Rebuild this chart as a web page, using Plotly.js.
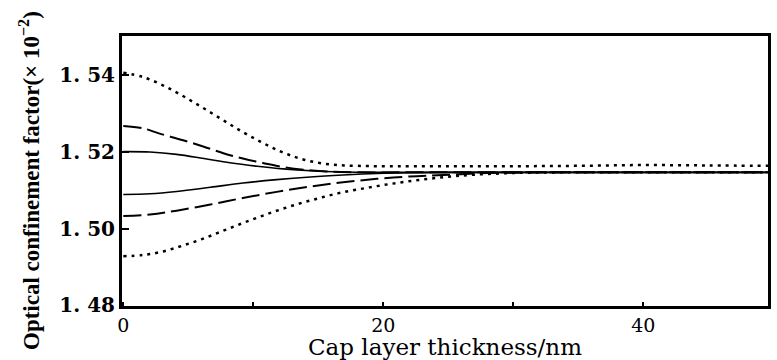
<!DOCTYPE html>
<html>
<head>
<meta charset="utf-8">
<script src="https://cdn.plot.ly/plotly-3.0.1.min.js"></script>
<style>
  html, body { margin: 0; padding: 0; background: #ffffff; }
  #chart { width: 777px; height: 360px; }
</style>
</head>
<body>
<div id="chart"></div>
<script>
// Cap layer thickness (nm) and optical confinement factor (x10^-2)
const xTopDot   = [0, 1.5, 3, 4.5, 6, 7.5, 9, 10.5, 12, 13.5, 15, 16.5, 18, 20, 25, 30, 35, 40, 45, 49.6];
const yTopDot   = [1.5407, 1.5396, 1.5375, 1.5348, 1.5318, 1.5287, 1.5256, 1.5228, 1.5203, 1.5184, 1.5172, 1.5166, 1.5164, 1.5163, 1.5163, 1.5163, 1.5164, 1.5166, 1.5165, 1.5164];

const xTopDash  = [0, 1.5, 2.8, 4.6, 6.2, 7.7, 9.2, 10.8, 12.3, 13.9, 15.7, 18, 22, 30, 40, 49.6];
const yTopDash  = [1.5268, 1.5262, 1.5248, 1.5231, 1.5214, 1.5197, 1.5183, 1.5171, 1.5161, 1.5154, 1.5149, 1.5147, 1.5147, 1.5147, 1.5147, 1.5147];

const xTopSolid = [0, 2.05, 4.1, 6.2, 8.2, 10.3, 12.3, 14.4, 16.9, 20, 25, 30, 40, 49.6];
const yTopSolid = [1.5201, 1.5200, 1.5194, 1.5183, 1.5172, 1.5163, 1.5156, 1.5151, 1.5148, 1.5147, 1.5147, 1.5147, 1.5147, 1.5147];

const xLowSolid = [0, 2.05, 4.1, 6.7, 9.2, 11.8, 14.4, 16.9, 19.5, 22, 25, 30, 40, 49.6];
const yLowSolid = [1.5089, 1.5091, 1.5097, 1.5108, 1.5119, 1.5128, 1.5135, 1.5140, 1.5144, 1.5146, 1.5147, 1.5147, 1.5147, 1.5147];

const xLowDash  = [0, 2.05, 4.1, 6.7, 9.2, 11.8, 14.4, 16.9, 19.5, 22, 24.6, 28, 32, 40, 49.6];
const yLowDash  = [1.5033, 1.5037, 1.5047, 1.5063, 1.5080, 1.5096, 1.5110, 1.5121, 1.5130, 1.5136, 1.5140, 1.5145, 1.5147, 1.5147, 1.5147];

const xLowDot   = [0, 1.5, 3, 4.5, 6, 7.5, 9, 10.5, 12, 13.5, 15, 16.5, 18, 19.5, 21, 22.5, 24, 25.5, 27, 29, 31, 34, 40, 49.6];
const yLowDot   = [1.4928, 1.4931, 1.4940, 1.4955, 1.4972, 1.4992, 1.5012, 1.5031, 1.5049, 1.5065, 1.5079, 1.5092, 1.5102, 1.5111, 1.5119, 1.5126, 1.5132, 1.5137, 1.5141, 1.5144, 1.5146, 1.5147, 1.5147, 1.5147];

const xTickVals = [0, 20, 40];
const xTickText = ["0", "20", "40"];
const xMinorVals = [10, 30];
const yTickVals = [1.48, 1.50, 1.52, 1.54];
const yTickText = ["1.\u00a048", "1.\u00a050", "1.\u00a052", "1.\u00a054"];
const yTitleText = "Optical confinement factor(× 10<sup>−2</sup>)";
const xTitleText = "Cap layer thickness/nm";

function tr(x, y, dash, width) {
  return { x: x, y: y, type: "scatter", mode: "lines",
           line: { color: "#000", dash: dash, width: width, shape: "spline", smoothing: 1 },
           showlegend: false, hoverinfo: "skip" };
}

const data = [
  tr(xTopDot, yTopDot, "3px,5px", 2.5),
  tr(xTopDash, yTopDash, "18px,6px", 2),
  tr(xTopSolid, yTopSolid, "solid", 1.6),
  tr(xLowSolid, yLowSolid, "solid", 1.6),
  tr(xLowDash, yLowDash, "18px,6px", 2),
  tr(xLowDot, yLowDot, "3px,5px", 2.5)
];

const layout = {
  width: 777, height: 360,
  margin: { l: 122, r: 9, t: 36, b: 54 },
  paper_bgcolor: "#fff", plot_bgcolor: "#fff",
  showlegend: false,
  xaxis: {
    range: [-0.1, 49.6],
    tickmode: "array", tickvals: xTickVals, ticktext: xTickText,
    ticks: "inside", ticklen: 4, tickwidth: 2, tickcolor: "#000",
    minor: { tickmode: "array", tickvals: xMinorVals, ticks: "inside", ticklen: 4, tickwidth: 2, tickcolor: "#000", showgrid: false },
    showline: true, linecolor: "#000", linewidth: 3, mirror: true,
    showgrid: false, zeroline: false,
    tickfont: { family: "DejaVu Serif", size: 19, color: "#000" },
    title: { text: xTitleText, standoff: 5,
             font: { family: "DejaVu Serif", size: 23, color: "#000" } }
  },
  yaxis: {
    range: [1.4798, 1.5503],
    tickmode: "array", tickvals: yTickVals, ticktext: yTickText,
    ticks: "inside", ticklen: 7, tickwidth: 2, tickcolor: "#000",
    showline: true, linecolor: "#000", linewidth: 3, mirror: true,
    showgrid: false, zeroline: false,
    tickfont: { family: "DejaVu Serif", size: 20, color: "#000", weight: "bold" }
  },
  annotations: [{
    text: yTitleText, textangle: -90, showarrow: false,
    xref: "paper", yref: "paper", x: -0.1424, y: 0.463,
    xanchor: "center", yanchor: "middle",
    font: { family: "Liberation Serif", size: 23, color: "#000", weight: "bold" }
  }]
};

Plotly.newPlot("chart", data, layout, { displayModeBar: false, staticPlot: true });
</script>
</body>
</html>
